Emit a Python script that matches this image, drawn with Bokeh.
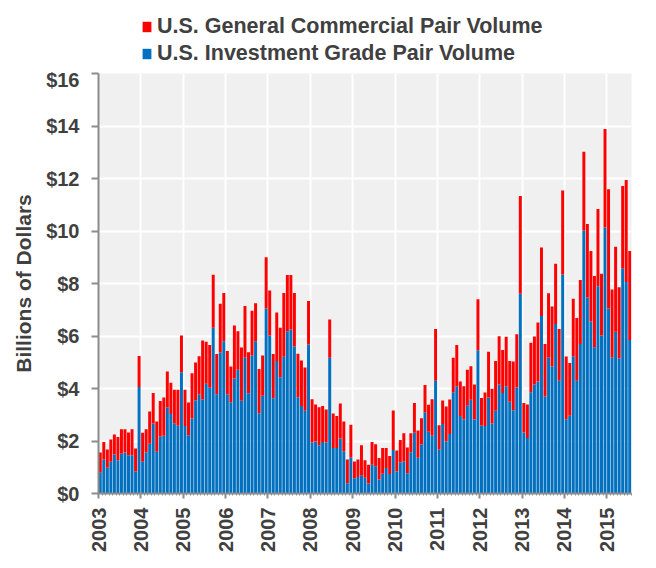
from math import pi
from bokeh.plotting import figure
from bokeh.layouts import column
from bokeh.models import (ColumnDataSource, Legend, LegendItem, FixedTicker,
                          Range1d, NumeralTickFormatter)
from bokeh.embed import file_html
from bokeh.resources import INLINE

# Monthly volumes, Jan 2003 .. Jul 2015, billions of dollars
year_labels = [str(y) for y in range(2003, 2016)]
ig_volume = [
    0.79, 1.30, 0.98, 1.21, 1.49, 1.27, 1.51, 1.56, 1.46, 1.46, 0.84, 4.06,
    1.21, 1.56, 1.90, 2.67, 1.59, 2.17, 2.20, 3.29, 3.03, 2.68, 2.58, 4.62,
    2.57, 2.22, 2.86, 3.54, 3.78, 3.58, 4.18, 4.03, 6.31, 3.78, 5.37, 5.80,
    3.78, 3.48, 4.38, 4.71, 3.53, 5.19, 3.82, 5.26, 5.80, 3.06, 3.72, 7.05,
    6.02, 3.63, 5.05, 4.43, 5.21, 6.18, 6.25, 5.60, 3.67, 3.33, 3.15, 5.68,
    1.94, 1.98, 1.84, 1.96, 1.94, 5.17, 1.73, 1.73, 2.10, 1.60, 0.39, 1.37,
    0.58, 0.63, 0.70, 0.60, 0.38, 1.10, 1.04, 0.53, 0.75, 0.97, 0.74, 1.66,
    0.84, 1.19, 1.22, 0.77, 1.57, 2.31, 1.36, 1.87, 3.10, 2.35, 2.20, 4.30,
    1.68, 2.65, 1.99, 2.27, 3.86, 4.09, 2.95, 2.82, 3.34, 3.57, 2.82, 5.46,
    2.59, 2.57, 3.66, 2.67, 3.15, 4.15, 3.83, 4.09, 3.50, 3.17, 4.04, 7.61,
    2.32, 2.11, 3.86, 4.15, 4.27, 6.76, 3.70, 5.19, 4.84, 6.46, 4.30, 8.34,
    2.83, 2.96, 5.23, 4.30, 5.70, 10.02, 7.47, 6.55, 5.57, 7.90, 6.02, 10.13,
    7.05, 5.19, 6.16, 5.14, 8.58, 8.06, 5.85,
]
gc_volume = [
    0.77, 0.66, 0.70, 0.85, 0.76, 0.88, 0.94, 0.89, 0.86, 0.99, 0.87, 1.18,
    1.10, 0.89, 1.22, 1.16, 1.15, 1.35, 1.46, 1.36, 1.19, 1.27, 1.37, 1.40,
    1.38, 1.25, 1.72, 1.45, 1.45, 2.25, 1.60, 1.63, 2.02, 1.53, 1.86, 1.84,
    1.65, 1.36, 2.02, 1.47, 2.03, 1.95, 1.56, 1.70, 1.45, 1.68, 1.54, 1.95,
    1.71, 1.68, 1.85, 1.88, 2.43, 2.14, 2.07, 2.04, 1.65, 1.74, 1.65, 1.65,
    1.65, 1.41, 1.45, 1.37, 1.26, 1.46, 1.32, 1.22, 1.33, 1.14, 0.91, 1.25,
    0.64, 0.67, 1.14, 0.67, 0.72, 0.86, 0.84, 0.82, 0.98, 0.76, 0.69, 1.50,
    0.80, 0.85, 1.08, 0.98, 0.73, 1.14, 1.04, 1.00, 1.03, 1.03, 1.39, 1.97,
    0.92, 0.89, 1.32, 1.31, 1.31, 1.57, 1.32, 1.27, 1.37, 1.28, 1.33, 1.94,
    1.05, 1.28, 1.74, 1.32, 1.90, 1.84, 1.64, 1.88, 1.55, 1.86, 2.03, 3.72,
    1.13, 1.28, 1.88, 1.83, 2.24, 2.61, 2.00, 2.44, 2.28, 2.29, 1.97, 3.20,
    2.39, 2.01, 2.19, 2.39, 2.43, 3.00, 2.80, 2.69, 2.72, 2.94, 2.35, 3.76,
    4.54, 2.58, 3.24, 2.72, 3.13, 3.88, 3.39,
]
y_ticks = [0, 2, 4, 6, 8, 10, 12, 14, 16]
series_names = ["U.S. General Commercial Pair Volume", "U.S. Investment Grade Pair Volume"]
series_colors = ["#FF0000", "#0070C0"]

n = len(ig_volume)
month_pos = [i + 0.5 for i in range(n)]
year_ticks = [12 * k for k in range(len(year_labels))]

src = ColumnDataSource(dict(x=month_pos, ig=ig_volume, gc=gc_volume))

FONT = "Liberation Sans"
TXT = "#404040"
AX = "#8C8C8C"

# ---- main chart ----
p = figure(width=648, height=498, output_backend="svg", toolbar_location=None,
           x_range=Range1d(0, n), y_range=Range1d(0, 16),
           min_border_left=98, min_border_right=17,
           min_border_top=5, min_border_bottom=73)
p.background_fill_color = "#F0F0F0"
p.border_fill_color = "white"
p.outline_line_color = None

rs = p.vbar_stack(["ig", "gc"], x="x", width=0.84, source=src,
                  fill_color=[series_colors[1], series_colors[0]], line_color=None)

p.ygrid.ticker = FixedTicker(ticks=y_ticks)
p.ygrid.grid_line_color = "white"
p.ygrid.grid_line_width = 2
p.xgrid.ticker = FixedTicker(ticks=year_ticks)
p.xgrid.grid_line_color = "white"
p.xgrid.grid_line_width = 2
p.grid.level = "underlay"

p.yaxis.ticker = FixedTicker(ticks=y_ticks)
p.yaxis.formatter = NumeralTickFormatter(format="$0")
p.yaxis.axis_label = "Billions of Dollars"
p.yaxis.axis_label_text_font = FONT
p.yaxis.axis_label_text_font_style = "bold"
p.yaxis.axis_label_text_font_size = "21px"
p.yaxis.axis_label_text_color = TXT
p.yaxis.axis_label_standoff = 8

p.xaxis.ticker = FixedTicker(ticks=year_ticks, minor_ticks=list(range(n + 1)))
p.xaxis.major_label_overrides = {t: lab for t, lab in zip(year_ticks, year_labels)}
p.xaxis.major_label_orientation = pi / 2

for ax in (p.xaxis[0], p.yaxis[0]):
    ax.axis_line_color = AX
    ax.axis_line_width = 2
    ax.major_tick_line_color = AX
    ax.major_tick_line_width = 2
    ax.major_tick_in = 0
    ax.minor_tick_line_color = AX
    ax.minor_tick_out = 2
    ax.minor_tick_in = 0
    ax.major_label_text_font = FONT
    ax.major_label_text_font_style = "bold"
    ax.major_label_text_font_size = "20px"
    ax.major_label_text_color = TXT
p.yaxis.minor_tick_line_color = None
p.yaxis.major_tick_out = 7
p.yaxis.major_label_standoff = 12
p.xaxis.major_tick_out = 5
p.xaxis.major_label_standoff = 9

# ---- legend strip above the chart (frame aligned with main chart) ----
lg = figure(width=648, height=68, output_backend="svg", toolbar_location=None,
            x_axis_type=None, y_axis_type=None,
            x_range=Range1d(0, 1), y_range=Range1d(0, 1),
            min_border_left=0, min_border_right=0, min_border_top=0, min_border_bottom=0)
lg.outline_line_color = None
lg.grid.visible = False
lg.background_fill_color = "white"
lg.border_fill_color = "white"
legend_items = []
for name, col in zip(series_names, series_colors):
    # legend proxy: a single bar kept outside the visible range
    proxy = ColumnDataSource(dict(x=[-5], top=[0]))
    r = lg.vbar(x="x", top="top", width=0.5, source=proxy, fill_color=col, line_color=None)
    legend_items.append(LegendItem(label=name, renderers=[r]))

legend = Legend(items=legend_items, location=(43, 2), orientation="vertical",
                label_text_font=FONT, label_text_font_style="bold",
                label_text_font_size="21.5px", label_text_color=TXT,
                glyph_width=11, glyph_height=13, label_height=20,
                label_standoff=5, spacing=2, padding=0, margin=0,
                background_fill_alpha=0, border_line_color=None)
lg.add_layout(legend, "center")

layout = column(lg, p, spacing=0)
open("out.html", "w").write(file_html(layout, INLINE))
